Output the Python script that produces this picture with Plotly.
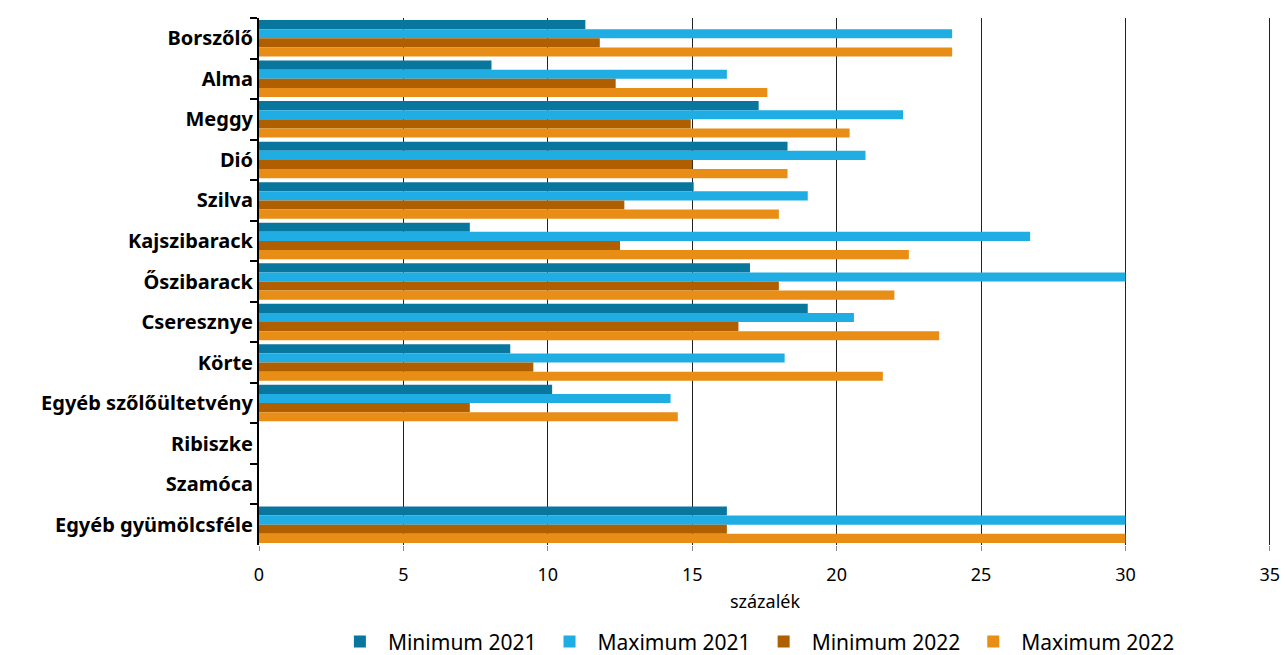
import plotly.graph_objects as go

categories = ["Borszőlő", "Alma", "Meggy", "Dió", "Szilva", "Kajszibarack", "Őszibarack",
              "Cseresznye", "Körte", "Egyéb szőlőültetvény", "Ribiszke", "Szamóca",
              "Egyéb gyümölcsféle"]

min_2021 = [11.3, 8.05, 17.3, 18.3, 15.05, 7.3, 17.0, 19.0, 8.7, 10.15, None, None, 16.2]
max_2021 = [24.0, 16.2, 22.3, 21.0, 19.0, 26.7, 30.0, 20.6, 18.2, 14.25, None, None, 30.0]
min_2022 = [11.8, 12.35, 14.95, 15.0, 12.65, 12.5, 18.0, 16.6, 9.5, 7.3, None, None, 16.2]
max_2022 = [24.0, 17.6, 20.45, 18.3, 18.0, 22.5, 22.0, 23.55, 21.6, 14.5, None, None, 30.0]

series = [
    ("Minimum 2021", min_2021, "#09769e"),
    ("Maximum 2021", max_2021, "#20ade3"),
    ("Minimum 2022", min_2022, "#b05f00"),
    ("Maximum 2022", max_2022, "#e88d15"),
]

fig = go.Figure()
for name, vals, col in series:
    fig.add_trace(go.Bar(y=categories, x=vals, name=name, orientation="h",
                         marker=dict(color=col, line=dict(width=0))))

fig.update_layout(
    width=1285, height=655,
    barmode="group", bargap=0.1, bargroupgap=0,
    plot_bgcolor="white", paper_bgcolor="white",
    margin=dict(l=259, r=14, t=18, b=110, autoexpand=False),
    font=dict(family="Noto Sans", size=18, color="black"),
    showlegend=True,
    legend=dict(orientation="h", x=0.491, xanchor="center", y=-0.184, yanchor="middle",
                font=dict(size=21), itemwidth=46, traceorder="normal"),
)

fig.update_xaxes(
    range=[0, 35.04], dtick=5, tick0=0, automargin=False,
    showgrid=True, gridcolor="#222222", gridwidth=1.3,
    zeroline=False, showline=False,
    ticks="outside", ticklen=5, tickcolor="#888888", ticklabelstandoff=8,
    tickfont=dict(size=18),
    title=dict(text="százalék", standoff=10, font=dict(size=18)),
)

fig.update_yaxes(
    autorange="reversed", type="category", automargin=False,
    showline=True, linecolor="black", linewidth=2,
    ticks="outside", tickson="boundaries", ticklen=7, tickwidth=2, tickcolor="black",
    showgrid=False,
    tickfont=dict(size=20, family="Noto Sans", weight="bold"),
)

# drop the default 8px page margin so the figure fills the window exactly
fig.write_html("out.html", config={"displayModeBar": False},
               post_script="document.body.style.margin='0';document.body.style.overflow='hidden';")
